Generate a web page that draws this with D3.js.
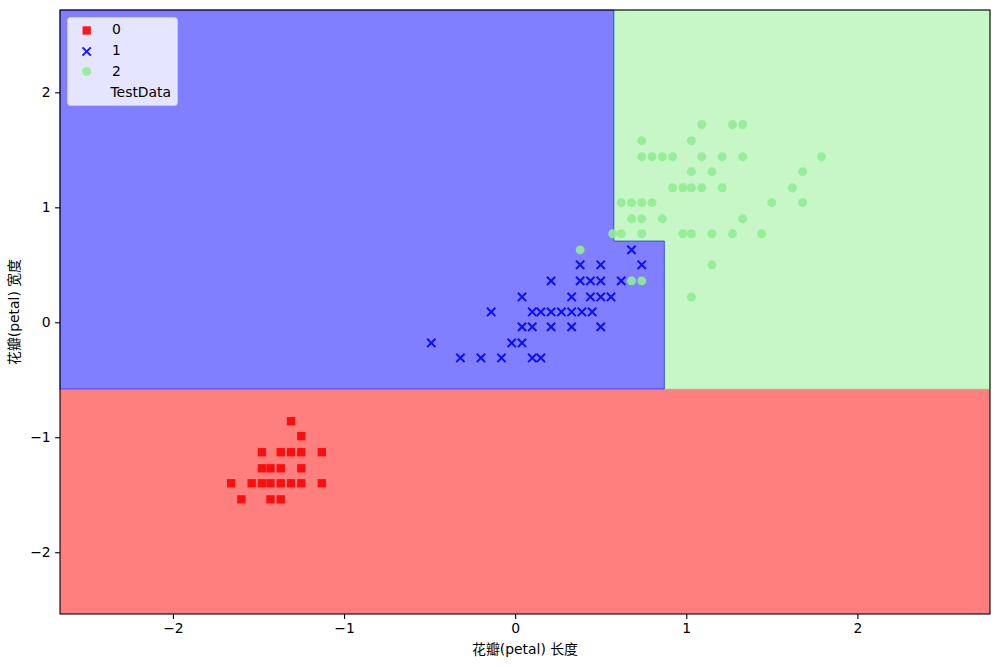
<!DOCTYPE html>
<html>
<head>
<meta charset="utf-8">
<script src="https://cdn.jsdelivr.net/npm/d3@7"></script>
<style>
  html, body { margin: 0; padding: 0; background: #ffffff; }
  svg text { font-family: "DejaVu Sans", "Noto Sans CJK SC", sans-serif; }
</style>
</head>
<body>
<svg id="chart" width="999" height="667"></svg>
<script>
// ---------- data ----------
const classLabels = ["0", "1", "2", "TestData"];
const xTicks = [-2, -1, 0, 1, 2];
const yTicks = [-2, -1, 0, 1, 2];
const xDomain = [-2.66, 2.775];
const yDomain = [-2.537, 2.716];

// decision-tree thresholds (standardized units)
const splitWidthLow = -0.58;   // below: class 0
const splitLenUpper = 0.577;   // upper part: x > this -> class 2
const splitWidthMid = 0.707;   // step between upper and lower part
const splitLenLower = 0.872;   // lower part: x > this -> class 2

// class 0 (squares)
const class0X = [-1.31, -1.25, -1.48, -1.37, -1.31, -1.25, -1.13, -1.48, -1.43, -1.37, -1.25,
                 -1.66, -1.54, -1.48, -1.43, -1.37, -1.31, -1.25, -1.13, -1.60, -1.43, -1.37];
const class0Y = [-0.86, -0.99, -1.13, -1.13, -1.13, -1.13, -1.13, -1.27, -1.27, -1.27, -1.27,
                 -1.40, -1.40, -1.40, -1.40, -1.40, -1.40, -1.40, -1.40, -1.54, -1.54, -1.54];

// class 1 (crosses)
const class1X = [0.68, 0.38, 0.50, 0.74, 0.21, 0.38, 0.44, 0.50, 0.62, 0.04, 0.33, 0.44, 0.50, 0.56,
                 -0.14, 0.10, 0.15, 0.21, 0.27, 0.33, 0.39, 0.45, 0.04, 0.10, 0.21, 0.33, 0.50,
                 -0.49, -0.02, 0.04, -0.32, -0.20, -0.08, 0.10, 0.15];
const class1Y = [0.63, 0.50, 0.50, 0.50, 0.36, 0.36, 0.36, 0.36, 0.36, 0.22, 0.22, 0.22, 0.22, 0.22,
                 0.09, 0.09, 0.09, 0.09, 0.09, 0.09, 0.09, 0.09, -0.04, -0.04, -0.04, -0.04, -0.04,
                 -0.18, -0.18, -0.18, -0.31, -0.31, -0.31, -0.31, -0.31];

// class 2 (circles)
const class2X = [1.09, 1.27, 1.33, 0.74, 1.03, 0.74, 0.80, 0.86, 0.92, 1.09, 1.21, 1.33, 1.79,
                 1.03, 1.15, 1.68, 0.92, 0.98, 1.03, 1.09, 1.21, 1.62, 0.62, 0.68, 0.74, 0.80, 1.50, 1.68,
                 0.68, 0.74, 0.86, 1.33, 0.57, 0.62, 0.74, 0.98, 1.03, 1.15, 1.27, 1.44,
                 0.38, 1.15, 0.68, 0.74, 1.03];
const class2Y = [1.72, 1.72, 1.72, 1.58, 1.58, 1.44, 1.44, 1.44, 1.44, 1.44, 1.44, 1.44, 1.44,
                 1.31, 1.31, 1.31, 1.17, 1.17, 1.17, 1.17, 1.17, 1.17, 1.04, 1.04, 1.04, 1.04, 1.04, 1.04,
                 0.90, 0.90, 0.90, 0.90, 0.77, 0.77, 0.77, 0.77, 0.77, 0.77, 0.77, 0.77,
                 0.63, 0.50, 0.36, 0.36, 0.22];

const xLabel = "花瓣(petal) 长度";
const yLabel = "花瓣(petal) 宽度";

// ---------- layout ----------
const margin = { left: 60, top: 10, right: 9, bottom: 53 };
const W = 999, H = 667;
const iw = W - margin.left - margin.right;   // 930
const ih = H - margin.top - margin.bottom;   // 604

const svg = d3.select("#chart");
const g = svg.append("g").attr("transform", `translate(${margin.left},${margin.top})`);

const x = d3.scaleLinear().domain(xDomain).range([0, iw]);
const y = d3.scaleLinear().domain(yDomain).range([ih, 0]);

// ---------- decision regions ----------
const [x0, x1] = xDomain, [y0, y1] = yDomain;
const regionRed = [[x0, y0], [x1, y0], [x1, splitWidthLow], [x0, splitWidthLow]];
const regionBlue = [[x0, splitWidthLow], [splitLenLower, splitWidthLow], [splitLenLower, splitWidthMid],
                    [splitLenUpper, splitWidthMid], [splitLenUpper, y1], [x0, y1]];
const regionGreen = [[splitLenLower, splitWidthLow], [x1, splitWidthLow], [x1, y1],
                     [splitLenUpper, y1], [splitLenUpper, splitWidthMid], [splitLenLower, splitWidthMid]];

const line = d3.line().x(d => x(d[0])).y(d => y(d[1]));
g.append("path").attr("d", line(regionRed) + "Z").attr("fill", "#ff0000").attr("fill-opacity", 0.5);
g.append("path").attr("d", line(regionGreen) + "Z").attr("fill", "#90ee90").attr("fill-opacity", 0.5)
  .attr("stroke", "#90ee90").attr("stroke-opacity", 0.6).attr("stroke-width", 1);
g.append("path").attr("d", line(regionBlue) + "Z").attr("fill", "#0000ff").attr("fill-opacity", 0.5)
  .attr("stroke", "#0000ff").attr("stroke-opacity", 0.5).attr("stroke-width", 1);

// ---------- points ----------
const ms = 8.33;
const pts0 = class0X.map((v, i) => [v, class0Y[i]]);
const pts1 = class1X.map((v, i) => [v, class1Y[i]]);
const pts2 = class2X.map((v, i) => [v, class2Y[i]]);

g.append("g").selectAll("rect").data(pts0).join("rect")
  .attr("x", d => x(d[0]) - ms / 2).attr("y", d => y(d[1]) - ms / 2)
  .attr("width", ms).attr("height", ms)
  .attr("fill", "#ff0000").attr("fill-opacity", 0.9);

const crossPath = (cx, cy, r) => `M${cx - r},${cy - r}L${cx + r},${cy + r}M${cx - r},${cy + r}L${cx + r},${cy - r}`;
g.append("g").selectAll("path").data(pts1).join("path")
  .attr("d", d => crossPath(x(d[0]), y(d[1]), ms / 2))
  .attr("stroke", "#0000ff").attr("stroke-width", 2).attr("fill", "none").attr("stroke-opacity", 0.9);

g.append("g").selectAll("circle").data(pts2).join("circle")
  .attr("cx", d => x(d[0])).attr("cy", d => y(d[1])).attr("r", ms / 2 + 0.3)
  .attr("fill", "#90ee90").attr("fill-opacity", 0.9);

// ---------- axes ----------
const fmt = d => (d < 0 ? "\u2212" + Math.abs(d) : String(d));
const xAxis = g.append("g").attr("transform", `translate(0,${ih})`)
  .call(d3.axisBottom(x).tickValues(xTicks).tickFormat(fmt).tickSize(4.9).tickPadding(4.5));
const yAxis = g.append("g")
  .call(d3.axisLeft(y).tickValues(yTicks).tickFormat(fmt).tickSize(4.9).tickPadding(4.5));
[xAxis, yAxis].forEach(a => {
  a.select(".domain").remove();
  a.selectAll(".tick line").attr("stroke", "#000").attr("stroke-width", 1.1);
  a.selectAll(".tick text").attr("font-size", 13.9).attr("fill", "#000")
    .attr("font-family", "DejaVu Sans, sans-serif");
});

g.append("rect").attr("x", 0).attr("y", 0).attr("width", iw).attr("height", ih)
  .attr("fill", "none").attr("stroke", "#000").attr("stroke-width", 1.1);

// axis labels
svg.append("text").attr("x", margin.left + iw / 2).attr("y", 654)
  .attr("text-anchor", "middle").attr("font-size", 13.9).attr("fill", "#000").text(xLabel);
svg.append("text").attr("transform", `translate(19,${margin.top + ih / 2}) rotate(-90)`)
  .attr("text-anchor", "middle").attr("font-size", 13.9).attr("fill", "#000").text(yLabel);

// ---------- legend ----------
const lg = svg.append("g");
lg.append("rect").attr("x", 67.5).attr("y", 17.5).attr("width", 110).attr("height", 88).attr("rx", 3)
  .attr("fill", "#ffffff").attr("fill-opacity", 0.8).attr("stroke", "#cccccc").attr("stroke-width", 1);
const rowsY = [28.5, 49.5, 70.5, 91.5];
const mx = 86.7;
lg.append("rect").attr("x", mx - ms / 2).attr("y", rowsY[0] + 2 - ms / 2).attr("width", ms).attr("height", ms)
  .attr("fill", "#ff0000").attr("fill-opacity", 0.9);
lg.append("path").attr("d", crossPath(mx, rowsY[1] + 2, ms / 2))
  .attr("stroke", "#0000ff").attr("stroke-width", 2).attr("fill", "none").attr("stroke-opacity", 0.9);
lg.append("circle").attr("cx", mx).attr("cy", rowsY[2] + 1).attr("r", ms / 2 + 0.3)
  .attr("fill", "#90ee90").attr("fill-opacity", 0.9);
classLabels.forEach((t, i) => {
  lg.append("text").attr("x", i === 3 ? 110.5 : 112).attr("y", rowsY[i]).attr("dy", "0.36em")
    .attr("font-size", 13.9).attr("fill", "#000").text(t);
});
</script>
</body>
</html>
